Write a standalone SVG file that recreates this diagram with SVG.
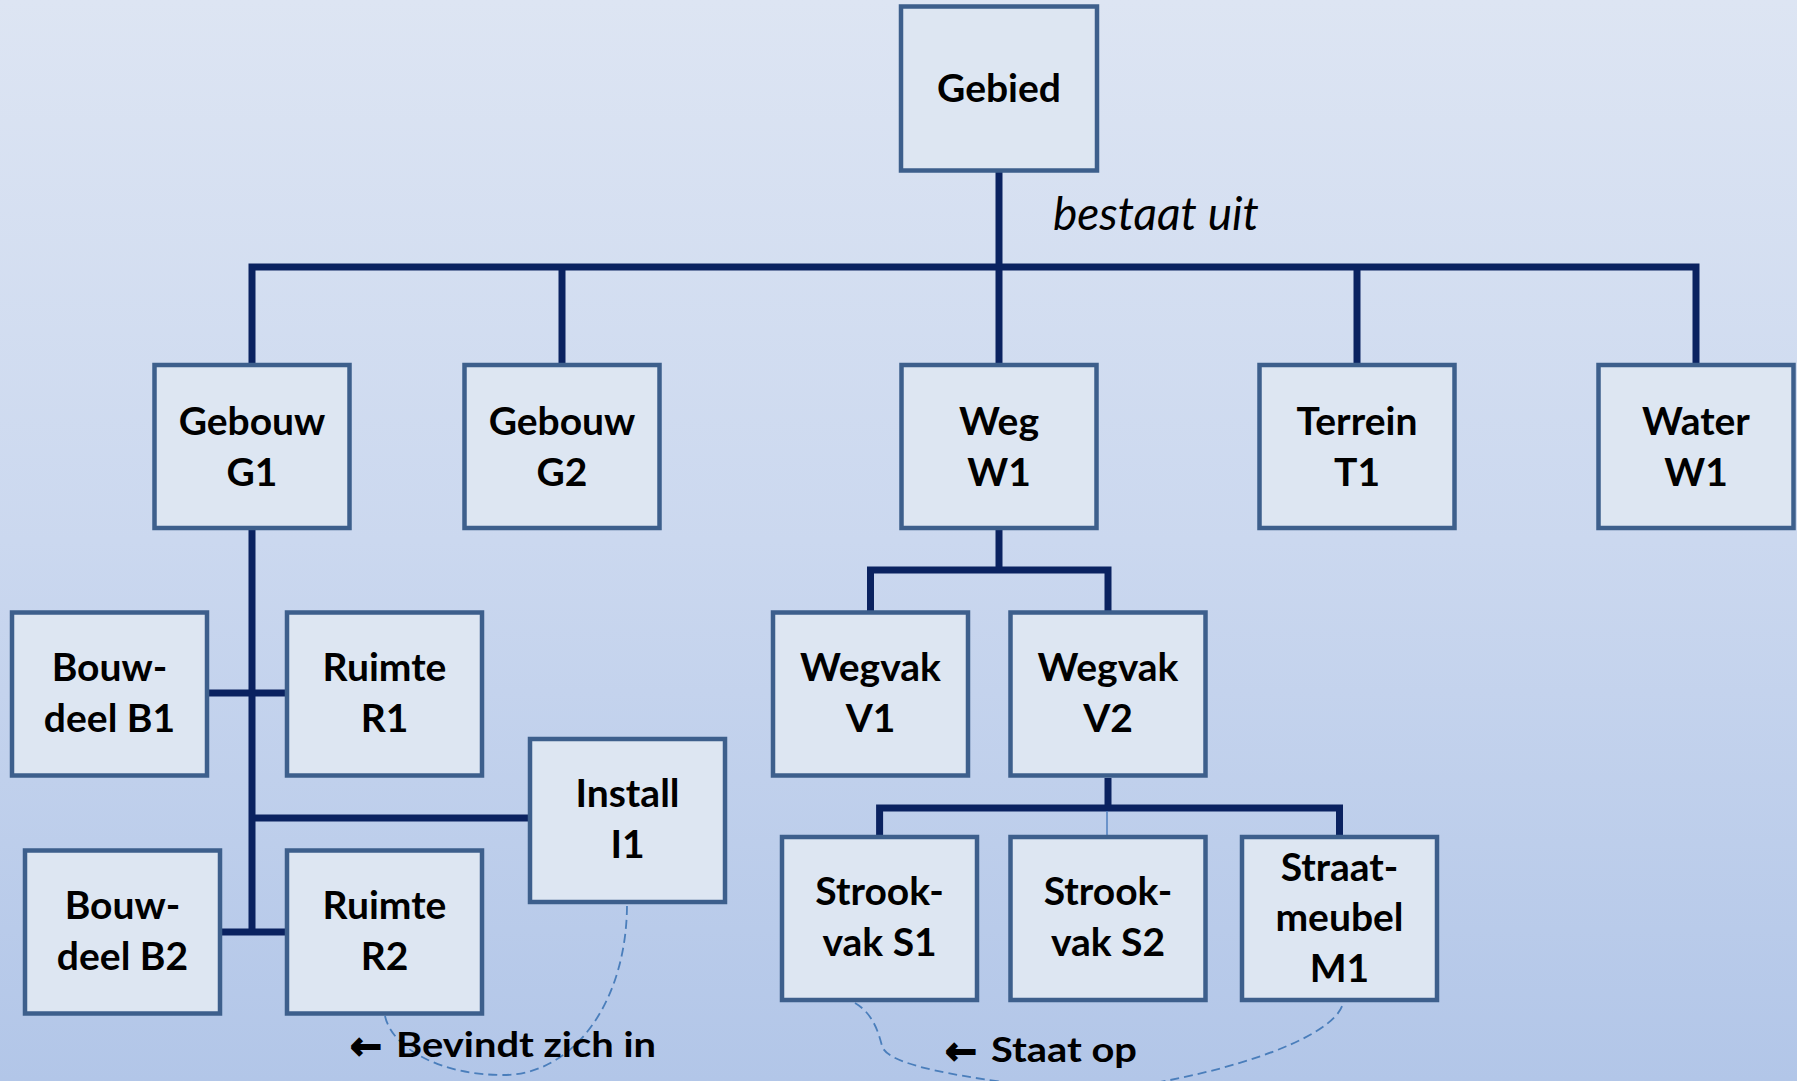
<svg xmlns="http://www.w3.org/2000/svg" width="1797" height="1081" viewBox="0 0 1797 1081">
  <defs>
    <linearGradient id="bg" x1="0" y1="0" x2="0" y2="1">
      <stop offset="0" stop-color="#dde5f3"/>
      <stop offset="0.5" stop-color="#cbd8ef"/>
      <stop offset="1" stop-color="#b2c6e8"/>
    </linearGradient>
    <style>
      .box { fill: #dde6f2; stroke: #3d5f8c; stroke-width: 4.5; }
      .n { font-family: Lato, "Liberation Sans", sans-serif; font-weight: bold; font-size: 39px; text-anchor: middle; fill: #000; }
      .bus { fill: none; stroke: #0a2260; stroke-width: 7; stroke-linejoin: miter; }
      .thin { fill: none; stroke: #4f7fbf; stroke-width: 1.5; }
      .rel { fill: none; stroke: #4a7ebb; stroke-width: 1.8; stroke-dasharray: 9 5; }
      .lbl { font-family: Lato, "Liberation Sans", sans-serif; font-weight: bold; font-size: 34px; fill: #000; }
      .arr { font-family: "DejaVu Sans", sans-serif; font-weight: bold; font-size: 38px; fill: #000; stroke: #000; stroke-width: 1.6; }
      .it { font-family: Lato, "Liberation Sans", sans-serif; font-style: italic; font-size: 46px; fill: #000; }
    </style>
  </defs>

  <rect x="0" y="0" width="1797" height="1081" fill="url(#bg)"/>

  <!-- hierarchy connectors -->
  <g id="connectors">
    <path class="bus" d="M999,172 V267"/>
    <path class="bus" d="M252,363 V267 H1696 V363"/>
    <path class="bus" d="M562,267 V363"/>
    <path class="bus" d="M999,267 V363"/>
    <path class="bus" d="M1357,267 V363"/>
    <path class="bus" d="M252,530 V932"/>
    <path class="bus" d="M209,693 H285"/>
    <path class="bus" d="M252,818 H528"/>
    <path class="bus" d="M222,932 H285"/>
    <path class="bus" d="M999,530 V570"/>
    <path class="bus" d="M870.5,611 V570 H1108 V611"/>
    <path class="bus" d="M1108,778 V808"/>
    <path class="bus" d="M879.6,835 V808 H1339.5 V835"/>
    <path class="thin" d="M1107,811 V835"/>
    <!-- location relations -->
    <path class="rel" d="M385,1016 C392,1048 440,1075 503,1075 C575,1075 627,1000 627,904"/>
    <path class="rel" d="M855,1003 C872,1013 878,1030 882,1046 C887,1064 950,1078 1090,1092 C1210,1080 1335,1040 1343,1003"/>
  </g>

  <text class="it" x="1053" y="230">bestaat uit</text>

  <g id="gebied">
    <rect class="box" x="901" y="6.5" width="196" height="164"/>
    <text class="n" x="999" y="102">Gebied</text>
  </g>

  <g id="gebouw-g1">
    <rect class="box" x="154.5" y="365" width="195" height="163"/>
    <text class="n" x="252" y="435">Gebouw</text>
    <text class="n" x="252" y="486">G1</text>
  </g>
  <g id="gebouw-g2">
    <rect class="box" x="464.5" y="365" width="195" height="163"/>
    <text class="n" x="562" y="435">Gebouw</text>
    <text class="n" x="562" y="486">G2</text>
  </g>
  <g id="weg-w1">
    <rect class="box" x="901.5" y="365" width="195" height="163"/>
    <text class="n" x="999" y="435">Weg</text>
    <text class="n" x="999" y="486">W1</text>
  </g>
  <g id="terrein-t1">
    <rect class="box" x="1259.5" y="365" width="195" height="163"/>
    <text class="n" x="1357" y="435">Terrein</text>
    <text class="n" x="1357" y="486">T1</text>
  </g>
  <g id="water-w1">
    <rect class="box" x="1598.5" y="365" width="195" height="163"/>
    <text class="n" x="1696" y="435">Water</text>
    <text class="n" x="1696" y="486">W1</text>
  </g>

  <g id="bouwdeel-b1">
    <rect class="box" x="12" y="612.5" width="195" height="163"/>
    <text class="n" x="109.5" y="681">Bouw-</text>
    <text class="n" x="109.5" y="732">deel B1</text>
  </g>
  <g id="ruimte-r1">
    <rect class="box" x="287" y="612.5" width="195" height="163"/>
    <text class="n" x="384.5" y="681">Ruimte</text>
    <text class="n" x="384.5" y="732">R1</text>
  </g>
  <g id="install-i1">
    <rect class="box" x="530" y="739" width="195" height="163"/>
    <text class="n" x="627.5" y="807">Install</text>
    <text class="n" x="627.5" y="858">I1</text>
  </g>
  <g id="bouwdeel-b2">
    <rect class="box" x="25" y="850.5" width="195" height="163"/>
    <text class="n" x="122.5" y="919">Bouw-</text>
    <text class="n" x="122.5" y="970">deel B2</text>
  </g>
  <g id="ruimte-r2">
    <rect class="box" x="287" y="850.5" width="195" height="163"/>
    <text class="n" x="384.5" y="919">Ruimte</text>
    <text class="n" x="384.5" y="970">R2</text>
  </g>

  <g id="wegvak-v1">
    <rect class="box" x="773" y="612.5" width="195" height="163"/>
    <text class="n" x="870.5" y="681">Wegvak</text>
    <text class="n" x="870.5" y="732">V1</text>
  </g>
  <g id="wegvak-v2">
    <rect class="box" x="1010.5" y="612.5" width="195" height="163"/>
    <text class="n" x="1108" y="681">Wegvak</text>
    <text class="n" x="1108" y="732">V2</text>
  </g>

  <g id="strookvak-s1">
    <rect class="box" x="782" y="837" width="195" height="163"/>
    <text class="n" x="879.6" y="905">Strook-</text>
    <text class="n" x="879.6" y="956">vak S1</text>
  </g>
  <g id="strookvak-s2">
    <rect class="box" x="1010.5" y="837" width="195" height="163"/>
    <text class="n" x="1108" y="905">Strook-</text>
    <text class="n" x="1108" y="956">vak S2</text>
  </g>
  <g id="straatmeubel-m1">
    <rect class="box" x="1242" y="837" width="195" height="163"/>
    <text class="n" x="1339.5" y="881">Straat-</text>
    <text class="n" x="1339.5" y="931">meubel</text>
    <text class="n" x="1339.5" y="982">M1</text>
  </g>

  <text class="arr" x="350" y="1059">←</text>
  <text class="lbl" x="396" y="1057" textLength="260" lengthAdjust="spacingAndGlyphs">Bevindt zich in</text>
  <text class="arr" x="945" y="1064">←</text>
  <text class="lbl" x="991" y="1062" textLength="146" lengthAdjust="spacingAndGlyphs">Staat op</text>
</svg>
